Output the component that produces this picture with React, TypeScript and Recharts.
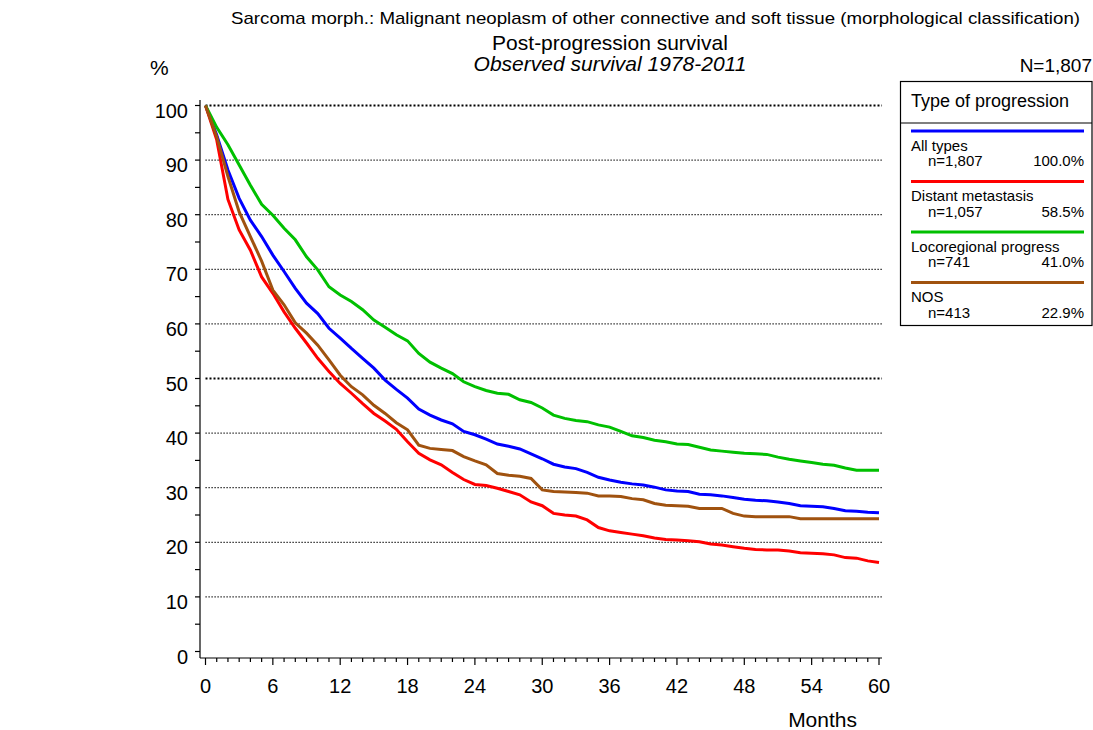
import React from 'react'
import { LineChart, Line, XAxis, YAxis, ReferenceLine } from 'recharts'

// survival (%), one value per month
const months = [
  0, 1, 2, 3, 4, 5, 6, 7, 8, 9, 10, 11, 12, 13, 14, 15, 16, 17, 18, 19, 20,
  21, 22, 23, 24, 25, 26, 27, 28, 29, 30, 31, 32, 33, 34, 35, 36, 37, 38, 39, 40,
  41, 42, 43, 44, 45, 46, 47, 48, 49, 50, 51, 52, 53, 54, 55, 56, 57, 58, 59, 60,
]

const allTypes = [
  100, 94.6, 88.2, 83.0, 79.0, 76.0, 72.6, 69.6, 66.5, 63.8, 61.9, 59.2, 57.4, 55.5, 53.7, 51.9,
  49.7, 48.0, 46.4, 44.4, 43.3, 42.4, 41.7, 40.3, 39.7, 38.9, 38.0, 37.6, 37.1, 36.2, 35.3,
  34.3, 33.8, 33.5, 32.8, 31.9, 31.4, 31.0, 30.7, 30.5, 30.1, 29.6, 29.4, 29.3, 28.8, 28.7,
  28.5, 28.2, 27.9, 27.7, 27.6, 27.4, 27.1, 26.7, 26.6, 26.5, 26.2, 25.8, 25.7, 25.5, 25.4,
]

const distant = [
  100, 93.7, 82.8, 77.2, 73.5, 68.6, 65.6, 62.2, 59.2, 56.5, 53.7, 51.3, 49.1, 47.3, 45.4, 43.6,
  42.2, 40.7, 38.4, 36.3, 35.1, 34.2, 32.8, 31.5, 30.6, 30.4, 29.9, 29.3, 28.7, 27.4, 26.7,
  25.3, 25.0, 24.8, 24.1, 22.7, 22.1, 21.8, 21.5, 21.2, 20.8, 20.5, 20.4, 20.3, 20.1, 19.7,
  19.5, 19.2, 18.9, 18.7, 18.6, 18.6, 18.4, 18.1, 18.0, 17.9, 17.7, 17.2, 17.1, 16.6, 16.3,
]

const locoregional = [
  100, 96.0, 92.8, 89.1, 85.4, 81.9, 79.9, 77.5, 75.4, 72.3, 69.9, 66.8, 65.3, 64.1, 62.6, 60.7,
  59.4, 58.0, 56.9, 54.6, 53.0, 51.9, 50.9, 49.4, 48.5, 47.8, 47.3, 47.1, 46.1, 45.6, 44.6,
  43.3, 42.7, 42.3, 42.1, 41.5, 41.1, 40.3, 39.5, 39.2, 38.7, 38.4, 38.0, 37.9, 37.4, 36.9,
  36.7, 36.5, 36.3, 36.2, 36.1, 35.6, 35.2, 34.9, 34.6, 34.3, 34.1, 33.6, 33.2, 33.2, 33.2,
]

const nos = [
  100, 94.3, 87.0, 80.5, 76.0, 71.5, 66.2, 63.5, 60.2, 58.3, 56.1, 53.4, 50.6, 48.5, 47.0, 45.1,
  43.6, 41.9, 40.6, 37.8, 37.2, 37.0, 36.8, 35.7, 34.9, 34.2, 32.6, 32.3, 32.1, 31.7, 29.6,
  29.3, 29.2, 29.1, 29.0, 28.5, 28.5, 28.4, 28.0, 27.8, 27.1, 26.8, 26.7, 26.6, 26.2, 26.2,
  26.2, 25.3, 24.8, 24.7, 24.7, 24.7, 24.7, 24.3, 24.3, 24.3, 24.3, 24.3, 24.3, 24.3, 24.3,
]

const seriesKeys = ['all', 'distant', 'loco', 'nos']
const seriesNames = ['All types', 'Distant metastasis', 'Locoregional progress', 'NOS']
const seriesN = ['n=1,807', 'n=1,057', 'n=741', 'n=413']
const seriesPct = ['100.0%', '58.5%', '41.0%', '22.9%']
const seriesColors = ['#0000ff', '#ff0000', '#00c000', '#a0520f']

const xTicks = [
  0, 1, 2, 3, 4, 5, 6, 7, 8, 9, 10, 11, 12, 13, 14, 15, 16, 17, 18, 19, 20,
  21, 22, 23, 24, 25, 26, 27, 28, 29, 30, 31, 32, 33, 34, 35, 36, 37, 38, 39, 40,
  41, 42, 43, 44, 45, 46, 47, 48, 49, 50, 51, 52, 53, 54, 55, 56, 57, 58, 59, 60,
]
const yTicks = [0, 5, 10, 15, 20, 25, 30, 35, 40, 45, 50, 55, 60, 65, 70, 75, 80, 85, 90, 95, 100]
const gridValues = [10, 20, 30, 40, 50, 60, 70, 80, 90, 100]

const data = months.map((m, i) => ({
  month: m,
  all: allTypes[i],
  distant: distant[i],
  loco: locoregional[i],
  nos: nos[i],
}))

const FONT = 'Arial, "Liberation Sans", Helvetica, sans-serif'

function XTick(props: any) {
  const { x, y, payload } = props
  const major = payload.value % 6 === 0
  return (
    <g>
      <line x1={x} x2={x} y1={y} y2={y + (major ? 7 : 4)} stroke="#000" strokeWidth={1.2} />
      {major && (
        <text x={x} y={y + 21} dy="0.71em" textAnchor="middle" fontSize={20} fontFamily={FONT} fill="#000">
          {payload.value}
        </text>
      )}
    </g>
  )
}

function YTick(props: any) {
  const { x, y, payload } = props
  const major = payload.value % 10 === 0
  return (
    <g>
      <line x1={x - 5} x2={x} y1={y} y2={y} stroke="#000" strokeWidth={1.2} />
      {major && (
        <text x={x - 12} y={y + 5} dy="0.355em" textAnchor="end" fontSize={20} fontFamily={FONT} fill="#000">
          {payload.value}
        </text>
      )}
    </g>
  )
}

export default function App() {
  const legendTop = 81
  return (
    <div style={{ position: 'absolute', left: 0, top: 0, width: 1093, height: 730, background: '#fff', fontFamily: FONT }}>
      <LineChart width={1093} height={730} data={data} margin={{ top: 100, right: 211, bottom: 12, left: 0 }}>
        <XAxis
          type="number"
          dataKey="month"
          domain={[0, 60]}
          ticks={xTicks}
          interval={0}
          tickSize={0}
          tickMargin={0}
          tickLine={false}
          tick={XTick}
          height={60}
          padding={{ left: 5.5, right: 3 }}
          axisLine={{ stroke: '#000', strokeWidth: 1.2 }}
        />
        <YAxis
          type="number"
          domain={[0, 100]}
          ticks={yTicks}
          interval={0}
          tickSize={0}
          tickMargin={0}
          tickLine={false}
          tick={YTick}
          width={200}
          padding={{ top: 5.5, bottom: 6.5 }}
          axisLine={{ stroke: '#000', strokeWidth: 1.2 }}
        />
        {gridValues.map(v => (
          <ReferenceLine
            key={v}
            segment={[{ x: 0, y: v }, { x: 60.27, y: v }]}
            ifOverflow="visible"
            stroke="#000"
            strokeWidth={v === 50 || v === 100 ? 2 : 1.2}
            strokeDasharray={v === 50 || v === 100 ? '2 2' : '1.2 1.8'}
          />
        ))}
        {seriesKeys.map((k, i) => (
          <Line
            key={k}
            type="linear"
            dataKey={k}
            name={seriesNames[i]}
            stroke={seriesColors[i]}
            strokeWidth={3}
            dot={false}
            isAnimationActive={false}
          />
        ))}
      </LineChart>

      {/* titles, axis captions and legend box */}
      <svg width={1093} height={730} style={{ position: 'absolute', left: 0, top: 0, pointerEvents: 'none' }} fontFamily={FONT}>
        <text x={655.5} y={24} textAnchor="middle" fontSize={17} textLength={849} lengthAdjust="spacingAndGlyphs">
          Sarcoma morph.: Malignant neoplasm of other connective and soft tissue (morphological classification)
        </text>
        <text x={610} y={50} textAnchor="middle" fontSize={21}>Post-progression survival</text>
        <text x={610} y={71} textAnchor="middle" fontSize={21} fontStyle="italic">Observed survival 1978-2011</text>
        <text x={150} y={75} fontSize={21}>%</text>
        <text x={1092} y={72} textAnchor="end" fontSize={19}>N=1,807</text>
        <text x={857} y={727} textAnchor="end" fontSize={21}>Months</text>

        <rect x={900.5} y={legendTop + 0.5} width={191.5} height={244} fill="#fff" stroke="#000" strokeWidth={1.2} />
        <text x={911} y={legendTop + 25.5} fontSize={18}>Type of progression</text>
        <line x1={900.5} x2={1092} y1={legendTop + 42} y2={legendTop + 42} stroke="#000" strokeWidth={1.2} />
        {seriesNames.map((name, i) => {
          const base = legendTop + 50 + i * 50.5
          return (
            <g key={name}>
              <line x1={911} x2={1084} y1={base} y2={base} stroke={seriesColors[i]} strokeWidth={3} />
              <text x={911} y={base + 19.5} fontSize={15}>{name}</text>
              <text x={928} y={base + 35} fontSize={15}>{seriesN[i]}</text>
              <text x={1084} y={base + 35} fontSize={15} textAnchor="end">{seriesPct[i]}</text>
            </g>
          )
        })}
      </svg>
    </div>
  )
}
